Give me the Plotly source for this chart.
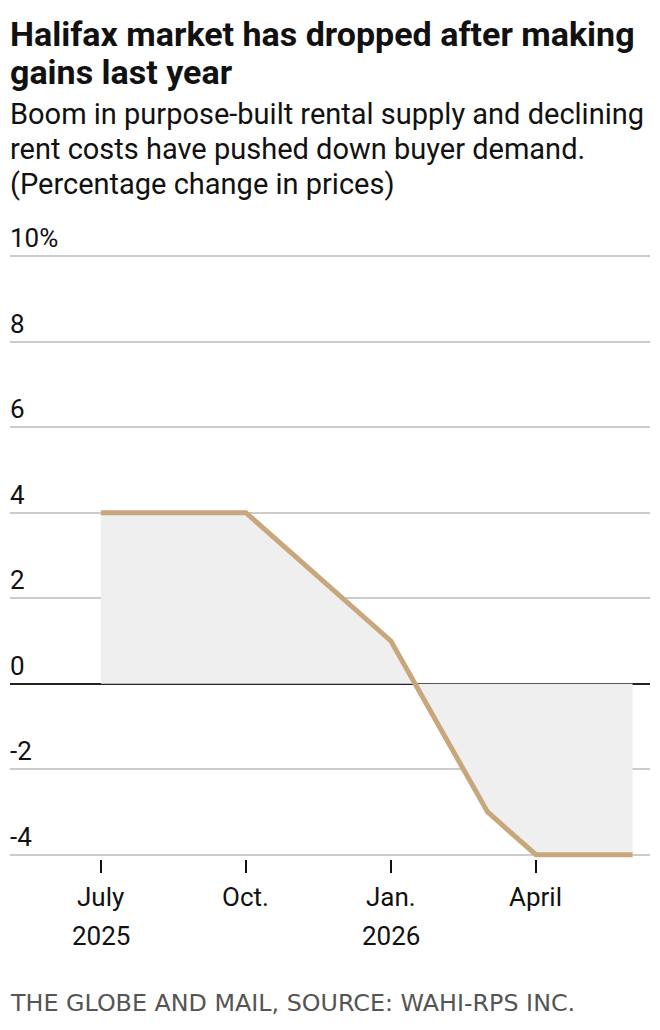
import plotly.graph_objects as go

months = ["2025-07", "2025-08", "2025-09", "2025-10", "2025-11", "2025-12",
          "2026-01", "2026-02", "2026-03", "2026-04", "2026-05", "2026-06"]
dates = ["2025-07", "2025-10", "2026-01", "2026-03", "2026-04", "2026-06"]
values = [4, 4, 1, -3, -4, -4]

y_ticks = [10, 8, 6, 4, 2, 0, -2, -4]
y_tick_text = ["10%", "8", "6", "4", "2", "0", "-2", "-4"]
x_tickvals = ["2025-07", "2025-10", "2026-01", "2026-04"]
x_month_text = ["July", "Oct.", "Jan.", "April"]
x_year_text = ["2025", "", "2026", ""]

title_lines = ["Halifax market has dropped after making", "gains last year"]
subtitle_lines = ["Boom in purpose-built rental supply and declining",
                  "rent costs have pushed down buyer demand.",
                  "(Percentage change in prices)"]
source = "THE GLOBE AND MAIL, SOURCE: WAHI-RPS INC."

W, H = 660, 1030
UNIT = (855 - 256) / 14.0
YMIN, YMAX = -4.1, 10.1
TOP = 256 - (YMAX - 10) * UNIT
BOT = 855 + (-4 - YMIN) * UNIT
def py(p):
    return (BOT - p) / (BOT - TOP)

fig = go.Figure()
fig.add_trace(go.Scatter(x=dates, y=values, mode="lines", fill="tozeroy",
                         fillcolor="#efefef", line=dict(width=0), hoverinfo="skip",
                         showlegend=False))
fig.add_trace(go.Scatter(x=dates, y=values, mode="lines",
                         line=dict(color="#c9a77c", width=5), showlegend=False,
                         cliponaxis=False))

ann = []
for i, t in enumerate(title_lines):
    ann.append(dict(text=t, x=0, xref="paper", y=py(34 + 38 * i), yref="paper",
                    xanchor="left", yanchor="middle", showarrow=False, align="left",
                    xshift=-2,
                    font=dict(family="Roboto", size=34, color="#111", weight="bold")))
for i, t in enumerate(subtitle_lines):
    ann.append(dict(text=t, x=0, xref="paper", y=py(114 + 35 * i), yref="paper",
                    xanchor="left", yanchor="middle", showarrow=False, align="left",
                    xshift=-2,
                    font=dict(family="Roboto", size=29, color="#111")))
for v, t in zip(y_ticks, y_tick_text):
    ann.append(dict(text=t, x=0, xref="paper", y=v, yref="y", xanchor="left",
                    yanchor="middle", showarrow=False, yshift=18, xshift=-2,
                    font=dict(family="Roboto", size=26, color="#111")))
for xv, m, yr in zip(x_tickvals, x_month_text, x_year_text):
    ann.append(dict(text=m, x=xv, xref="x", y=py(897), yref="paper",
                    xanchor="center", yanchor="middle", showarrow=False,
                    font=dict(family="Roboto", size=26, color="#111")))
    if yr:
        ann.append(dict(text=yr, x=xv, xref="x", y=py(936), yref="paper",
                        xanchor="center", yanchor="middle", showarrow=False,
                        font=dict(family="Roboto", size=26, color="#111")))
ann.append(dict(text=source, x=0, xref="paper", y=py(1003), yref="paper",
                xanchor="left", yanchor="middle", showarrow=False, xshift=-2,
                font=dict(family="DejaVu Sans", size=23.8, color="#555")))

fig.update_layout(
    width=W, height=H, margin=dict(l=10, r=10, t=TOP, b=H - BOT),
    paper_bgcolor="white", plot_bgcolor="white",
    annotations=ann,
    xaxis=dict(type="category", categoryorder="array", categoryarray=months,
               range=[-1.88, 11.36],
               tickvals=x_tickvals, showticklabels=False, ticks="outside",
               ticklen=13, tickwidth=1.5, tickcolor="#111", showgrid=False,
               zeroline=False, showline=False),
    yaxis=dict(range=[YMIN, YMAX], tickvals=y_ticks, showticklabels=False,
               showgrid=True, gridcolor="#cccccc", gridwidth=1.5,
               zeroline=True, zerolinecolor="#222", zerolinewidth=1.5,
               fixedrange=True),
)

fig.write_html("out.html")
